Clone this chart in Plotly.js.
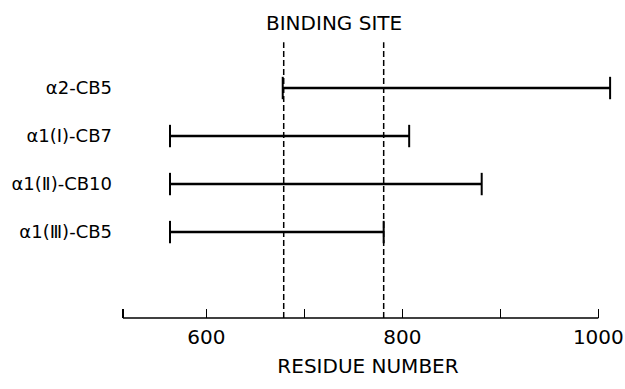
<!DOCTYPE html>
<html>
<head>
<meta charset="utf-8">
<script src="https://cdn.plot.ly/plotly-3.0.1.min.js"></script>
<style>html,body{margin:0;padding:0;background:#fff;}#chart{width:625px;height:389px;}</style>
</head>
<body>
<div id="chart"></div>
<script>
// Data
const fragments = ["α2-CB5", "α1(Ⅰ)-CB7", "α1(Ⅱ)-CB10", "α1(Ⅲ)-CB5"];
const rowPos = [4, 3, 2, 1];
const startResidue = [678, 563, 563, 563];
const endResidue = [1012, 807, 881, 781];
const bindingSite = [679, 781];
const axisExtent = [515, 1000];
const xTickVals = [515, 600, 700, 800, 900, 1000];
const xTickText = ["", "600", "", "800", "", "1000"];

const font = {family: "DejaVu Sans, Arial, sans-serif", size: 20, color: "#000"};
const labelFont = {family: "DejaVu Sans, Arial, sans-serif", size: 18, color: "#000"};

const traces = fragments.map((name, i) => ({
  type: "scatter",
  mode: "lines+markers",
  x: [startResidue[i], endResidue[i]],
  y: [rowPos[i], rowPos[i]],
  line: {color: "#000", width: 2.5},
  marker: {symbol: "line-ns", size: 16, color: "#000", line: {color: "#000", width: 2}},
  cliponaxis: false,
  showlegend: false,
  hoverinfo: "skip",
  name: name
}));

const shapes = bindingSite.map(x => ({
  type: "line", xref: "x", yref: "paper",
  x0: x, x1: x, y0: 0, y1: 0.932,
  line: {color: "#000", width: 1.5, dash: "6px,3px"}
}));
shapes.push({
  type: "line", xref: "x", yref: "paper",
  x0: axisExtent[0], x1: axisExtent[1], y0: 0, y1: 0,
  line: {color: "#000", width: 1.5}
});

const layout = {
  width: 625, height: 389,
  margin: {l: 121, r: 10, t: 22, b: 71},
  paper_bgcolor: "#fff", plot_bgcolor: "#fff",
  font: font,
  showlegend: false,
  xaxis: {
    range: [513, 1017],
    tickvals: xTickVals, ticktext: xTickText,
    ticks: "inside", ticklen: 9, tickwidth: 1.5, tickcolor: "#000",
    showline: false,
    showgrid: false, zeroline: false,
    tickfont: font,
    ticklabelstandoff: 5,
    title: {text: "RESIDUE NUMBER", font: font, standoff: 10}
  },
  yaxis: {
    range: [-0.79, 5.375],
    tickvals: rowPos, ticktext: fragments,
    ticks: "", showline: false, showgrid: false, zeroline: false,
    tickfont: labelFont,
    ticklabelstandoff: 8
  },
  shapes: shapes,
  annotations: [{
    text: "BINDING SITE", xref: "x", yref: "paper",
    x: (bindingSite[0] + bindingSite[1]) / 2, y: 0.995,
    xanchor: "center", yanchor: "middle", showarrow: false, font: font
  }]
};

Plotly.newPlot("chart", traces, layout, {displayModeBar: false, staticPlot: true});
</script>
</body>
</html>
